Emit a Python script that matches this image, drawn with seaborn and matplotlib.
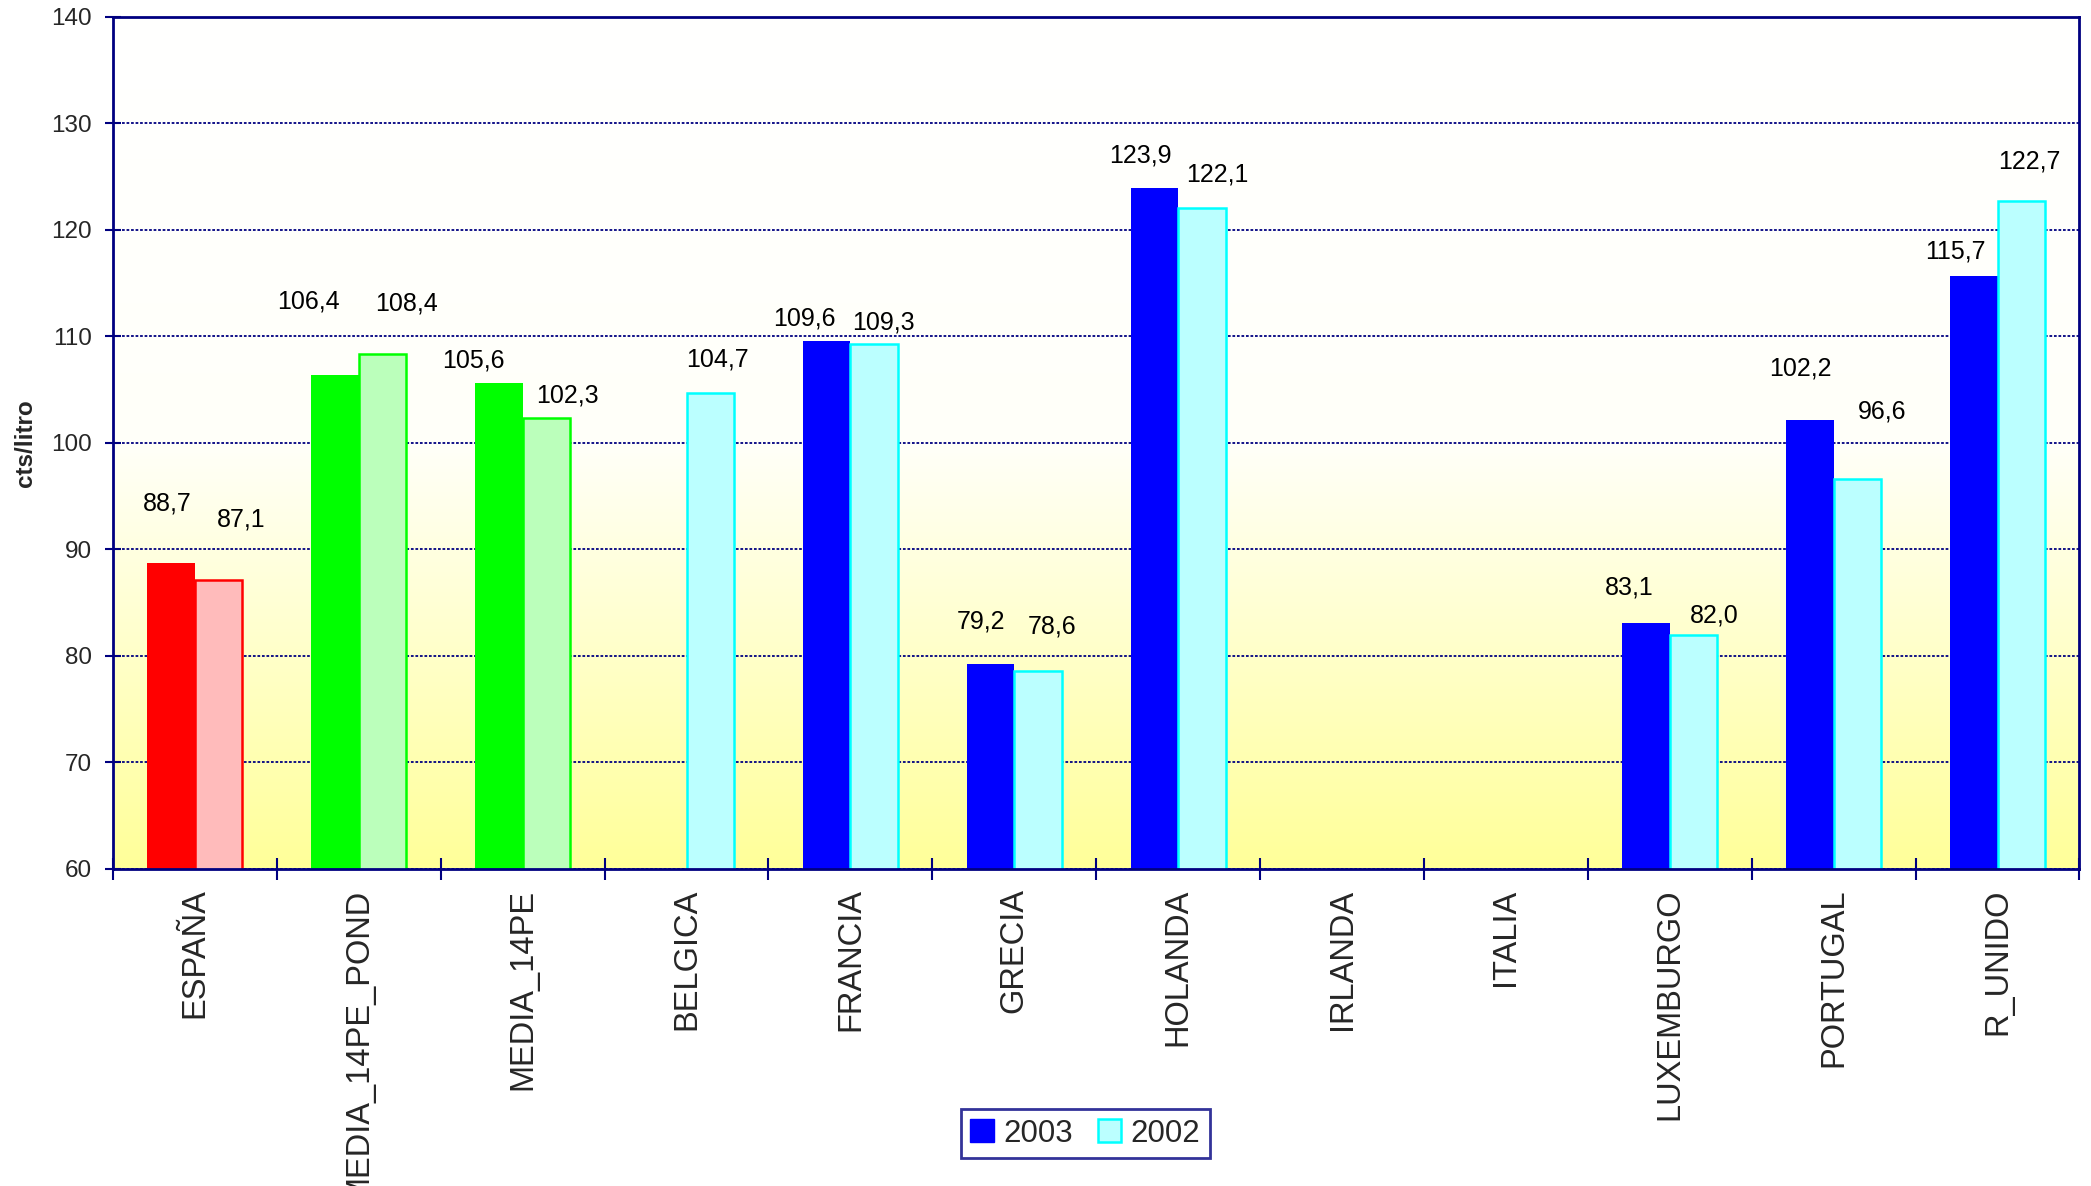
import numpy as np
import pandas as pd
import matplotlib
matplotlib.use("Agg")
import matplotlib.pyplot as plt
from matplotlib.patches import Patch
from matplotlib.colors import LinearSegmentedColormap
import seaborn as sns

# data (cts/litro)
paises = ["ESPAÑA", "MEDIA_14PE_POND", "MEDIA_14PE", "BELGICA", "FRANCIA", "GRECIA",
          "HOLANDA", "IRLANDA", "ITALIA", "LUXEMBURGO", "PORTUGAL", "R_UNIDO"]
val_2003 = [88.7, 106.4, 105.6, np.nan, 109.6, 79.2, 123.9, np.nan, np.nan, 83.1, 102.2, 115.7]
val_2002 = [87.1, 108.4, 102.3, 104.7, 109.3, 78.6, 122.1, np.nan, np.nan, 82.0, 96.6, 122.7]
years = ["2003", "2002"]

# where the value labels sit relative to their bar (dx in points, dy in cts/litro)
lab_dx_2003 = [-3, -19, -18, 0, -16, -6.5, -10, 0, 0, -12, -7, -13]
lab_dy_2003 = [5.6, 6.9, 2.1, 0, 2.1, 4.0, 3.1, 0, 0, 3.3, 4.8, 2.3]
lab_dx_2002 = [16, 17, 15, 5, 7, 10, 11, 0, 0, 15, 18, 6]
lab_dy_2002 = [5.7, 4.7, 2.2, 3.1, 2.0, 4.2, 3.1, 0, 0, 1.8, 6.4, 3.7]

# colours: spain red, averages green, rest blue
fill_2003 = {"ESPAÑA": "#ff0000", "MEDIA_14PE_POND": "#00ff00", "MEDIA_14PE": "#00ff00"}
fill_2002 = {"ESPAÑA": "#ffbbbb", "MEDIA_14PE_POND": "#bbffbb", "MEDIA_14PE": "#bbffbb"}
edge_2002 = {"ESPAÑA": "#ff0000", "MEDIA_14PE_POND": "#00ff00", "MEDIA_14PE": "#00ff00"}
navy = "#000080"

df = pd.DataFrame({
    "pais": paises * 2,
    "year": ["2003"] * len(paises) + ["2002"] * len(paises),
    "valor": val_2003 + val_2002,
}).dropna()

sns.set_style("white")
plt.rcParams["font.family"] = ["Liberation Sans", "DejaVu Sans"]

fig = plt.figure(figsize=(20.91, 11.86), dpi=100)
ax = fig.add_axes([0.054, 0.2673, 0.9405, 0.7184])

# white -> pale yellow background
grad = LinearSegmentedColormap.from_list("bg", ["#ffff99", "#fffff9", "#ffffff"])
ax.imshow(np.linspace(0, 1, 256).reshape(-1, 1), cmap=grad, origin="lower", aspect="auto",
          extent=[0, 1, 0, 1], transform=ax.transAxes, zorder=0)

sns.barplot(data=df, x="pais", y="valor", hue="year", order=paises, hue_order=years,
            width=0.58, ax=ax, legend=False, zorder=2, saturation=1)

for bar in ax.patches:
    i = int(round(bar.get_x() + bar.get_width() / 2))
    p = paises[i]
    h = bar.get_height()
    is03 = bar.get_x() + bar.get_width() / 2 < i
    if is03:
        bar.set_facecolor(fill_2003.get(p, "#0000ff"))
        bar.set_edgecolor(fill_2003.get(p, "#0000ff"))
        bar.set_linewidth(0)
        dx, dy = lab_dx_2003[i], lab_dy_2003[i]
    else:
        bar.set_facecolor(fill_2002.get(p, "#bbffff"))
        bar.set_edgecolor(edge_2002.get(p, "#00ffff"))
        bar.set_linewidth(1.8)
        dx, dy = lab_dx_2002[i], lab_dy_2002[i]
    ax.annotate(f"{h:.1f}".replace(".", ","), xy=(bar.get_x() + bar.get_width() / 2, h + dy),
                xytext=(dx, 0), textcoords="offset points", ha="center", va="center",
                fontsize=18, color="black", zorder=5)

ax.set_xlim(-0.5, len(paises) - 0.5)
ax.set_ylim(60, 140)
ax.set_yticks(range(60, 141, 10))
ax.set_axisbelow(True)
ax.yaxis.grid(True, color=navy, linestyle=(0, (1.5, 1)), linewidth=1.3, zorder=1)
ax.xaxis.grid(False)

for s in ax.spines.values():
    s.set_color(navy)
    s.set_linewidth(2)
    s.set_visible(True)

ax.tick_params(axis="y", direction="inout", length=12, width=1.5, color=navy,
               labelsize=17.5, pad=9, left=True)
ax.set_xticks(range(len(paises)))
ax.set_xticklabels(paises, rotation=90, fontsize=23.5)
ax.tick_params(axis="x", length=0, pad=14)
ax.set_xticks(np.arange(-0.5, len(paises), 1), minor=True)
ax.tick_params(axis="x", which="minor", direction="inout", length=16, width=1.5,
               color=navy, bottom=True)

ax.set_xlabel("")
ax.set_ylabel("cts/litro", fontsize=17.5, fontweight="bold", labelpad=10)

handles = [Patch(facecolor="#0000ff", edgecolor="#0000ff", label="2003"),
           Patch(facecolor="#bbffff", edgecolor="#00ffff", linewidth=1.8, label="2002")]
leg = fig.legend(handles=handles, loc="center", bbox_to_anchor=(0.519, 0.044), ncol=2,
                 fontsize=22.5, frameon=True, fancybox=False, handlelength=0.75,
                 handleheight=0.75, handletextpad=0.3, columnspacing=0.8, borderpad=0.3)
leg.get_frame().set_edgecolor(navy)
leg.get_frame().set_linewidth(2)

fig.savefig("out.png", dpi=100, facecolor="white")
